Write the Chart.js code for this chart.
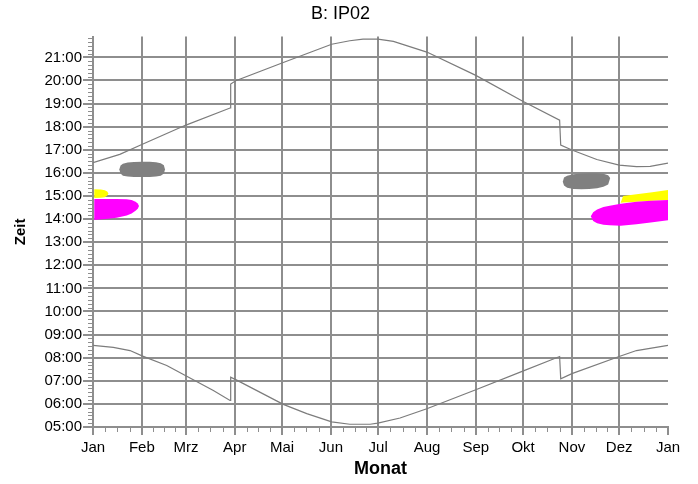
<!DOCTYPE html>
<html lang="de">
<head>
<meta charset="UTF-8">
<title>B: IP02</title>
<style>
  body { margin: 0; background: #ffffff; }
  #wrap { width: 698px; height: 484px; }
</style>
<script src="https://cdn.jsdelivr.net/npm/chart.js"></script>
</head>
<body>
<div id="wrap"><canvas id="chart" width="698" height="484"></canvas></div>
<script>
// Achsen
const monthStarts = [0, 31, 59, 90, 120, 151, 181, 212, 243, 273, 304, 334, 365];
const monthLabels = ['Jan', 'Feb', 'Mrz', 'Apr', 'Mai', 'Jun', 'Jul', 'Aug', 'Sep', 'Okt', 'Nov', 'Dez', 'Jan'];
const hourTicks = [5, 6, 7, 8, 9, 10, 11, 12, 13, 14, 15, 16, 17, 18, 19, 20, 21];
const hourLabels = ['05:00', '06:00', '07:00', '08:00', '09:00', '10:00', '11:00', '12:00', '13:00',
                    '14:00', '15:00', '16:00', '17:00', '18:00', '19:00', '20:00', '21:00'];

// Sonnenuntergang (Tag im Jahr, Uhrzeit in Stunden)
const sunsetDays  = [0, 17, 31, 59, 87, 87.4, 90.6, 120.8, 151.5, 163, 171.4, 180.8, 190.7, 211.9, 243, 272.8, 296.2, 296.9, 304, 319.8, 334, 345, 353.7, 365];
const sunsetTimes = [16.44, 16.80, 17.23, 18.07, 18.81, 19.85, 19.99, 20.78, 21.57, 21.72, 21.79, 21.79, 21.69, 21.23, 20.22, 19.10, 18.28, 17.20, 16.99, 16.58, 16.34, 16.27, 16.28, 16.42];

// Sonnenaufgang
const sunriseDays  = [0, 12.9, 23.5, 31.5, 46.8, 59.5, 76.4, 87, 87.4, 90.6, 120.8, 135.7, 151.5, 163, 175.9, 180.8, 194.9, 211.9, 243, 272.8, 296.2, 296.9, 304, 334, 345, 365];
const sunriseTimes = [8.53, 8.45, 8.31, 8.07, 7.66, 7.20, 6.58, 6.15, 7.16, 7.05, 5.98, 5.58, 5.22, 5.12, 5.12, 5.17, 5.39, 5.79, 6.61, 7.42, 8.05, 7.09, 7.31, 8.05, 8.31, 8.53];

// Schattenflächen: Tag, obere Grenze, untere Grenze
const grayLeftDays   = [16.7, 17.5, 19, 22, 26, 31, 36, 40, 43, 45, 45.7];
const grayLeftTop    = [16.15, 16.32, 16.40, 16.45, 16.47, 16.48, 16.48, 16.46, 16.42, 16.33, 16.15];
const grayLeftBottom = [16.15, 15.97, 15.88, 15.84, 15.82, 15.82, 15.82, 15.84, 15.88, 15.97, 16.15];

const magentaLeftDays   = [0.8, 8, 15, 21.4, 24.5, 27, 28.4, 29.2];
const magentaLeftTop    = [14.87, 14.87, 14.87, 14.86, 14.83, 14.75, 14.68, 14.57];
const magentaLeftBottom = [13.96, 14.00, 14.06, 14.16, 14.24, 14.36, 14.45, 14.57];

const yellowLeftDays   = [0.8, 5, 7.5, 9, 9.8];
const yellowLeftTop    = [15.29, 15.28, 15.25, 15.19, 15.11];
const yellowLeftBottom = [14.91, 14.92, 14.95, 15.02, 15.11];

const grayRightDays   = [298.2, 299, 301, 305, 310, 315, 320, 324, 327, 328.3];
const grayRightTop    = [15.62, 15.80, 15.88, 15.94, 15.97, 15.98, 15.98, 15.96, 15.90, 15.78];
const grayRightBottom = [15.62, 15.45, 15.36, 15.30, 15.29, 15.30, 15.34, 15.40, 15.50, 15.78];

const magentaRightDays   = [316, 317.5, 320, 324, 328, 335, 345, 354, 365];
const magentaRightTop    = [14.12, 14.30, 14.42, 14.52, 14.58, 14.66, 14.75, 14.79, 14.83];
const magentaRightBottom = [14.12, 13.92, 13.82, 13.76, 13.73, 13.71, 13.78, 13.85, 13.95];

const yellowRightDays   = [335, 336.5, 345, 355, 365];
const yellowRightTop    = [14.72, 15.00, 15.08, 15.16, 15.26];
const yellowRightBottom = [14.71, 14.72, 14.75, 14.79, 14.83];

const gridColor = '#8e8e8e';
const fontFamily = '"Liberation Sans", Arial, sans-serif';

function toPoints(days, times) {
    return days.map((d, i) => ({ x: d, y: times[i] }));
}

// Umriss: oben hin, unten zurück
function toShape(days, top, bottom) {
    const pts = toPoints(days, top);
    for (let i = days.length - 1; i >= 0; i--) {
        pts.push({ x: days[i], y: bottom[i] });
    }
    return pts;
}

function area(label, data, color) {
    return {
        label: label,
        data: data,
        fill: 'shape',
        backgroundColor: color,
        borderColor: 'rgba(0,0,0,0)',
        borderWidth: 1,
        pointRadius: 0,
        tension: 0
    };
}

function curve(label, data) {
    return {
        label: label,
        data: data,
        fill: false,
        borderColor: '#7c7c7c',
        borderWidth: 1.2,
        pointRadius: 0,
        tension: 0
    };
}

// kleine Zwischenstriche an den Achsen
const minorTicks = {
    id: 'minorTicks',
    afterDraw(chart) {
        const { ctx, scales: { x, y } } = chart;
        ctx.save();
        ctx.strokeStyle = gridColor;
        ctx.lineWidth = 1;
        ctx.beginPath();
        for (let i = 0; i < monthStarts.length - 1; i++) {
            const len = monthStarts[i + 1] - monthStarts[i];
            for (let q = 1; q < 4; q++) {
                const px = Math.round(x.getPixelForValue(monthStarts[i] + q * len / 4)) + 0.5;
                ctx.moveTo(px, y.bottom);
                ctx.lineTo(px, y.bottom + 5);
            }
        }
        for (let m = 5 * 60 + 10; m <= y.max * 60; m += 10) {
            if (m % 60 === 0) continue;
            const py = Math.round(y.getPixelForValue(m / 60)) + 0.5;
            ctx.moveTo(x.left - 5, py);
            ctx.lineTo(x.left, py);
        }
        ctx.stroke();
        ctx.restore();
    }
};

new Chart(document.getElementById('chart'), {
    type: 'line',
    data: {
        datasets: [
            area('Schatten grau links', toShape(grayLeftDays, grayLeftTop, grayLeftBottom), '#808080'),
            area('Schatten magenta links', toShape(magentaLeftDays, magentaLeftTop, magentaLeftBottom), '#ff00ff'),
            area('Schatten gelb links', toShape(yellowLeftDays, yellowLeftTop, yellowLeftBottom), '#ffff00'),
            area('Schatten grau rechts', toShape(grayRightDays, grayRightTop, grayRightBottom), '#808080'),
            area('Schatten magenta rechts', toShape(magentaRightDays, magentaRightTop, magentaRightBottom), '#ff00ff'),
            area('Schatten gelb rechts', toShape(yellowRightDays, yellowRightTop, yellowRightBottom), '#ffff00'),
            curve('Sonnenuntergang', toPoints(sunsetDays, sunsetTimes)),
            curve('Sonnenaufgang', toPoints(sunriseDays, sunriseTimes))
        ]
    },
    options: {
        responsive: false,
        animation: false,
        layout: { padding: { left: 13, right: 30, top: 0, bottom: 0 } },
        plugins: {
            legend: { display: false },
            tooltip: { enabled: false },
            title: {
                display: true,
                text: 'B: IP02',
                color: '#000',
                font: { family: fontFamily, size: 18, weight: 'normal' },
                padding: { top: 3, bottom: 12 }
            }
        },
        scales: {
            x: {
                type: 'linear',
                min: 0,
                max: 365,
                z: 1,
                afterBuildTicks: (scale) => { scale.ticks = monthStarts.map(v => ({ value: v })); },
                afterFit: (scale) => { scale.height = 57; },
                ticks: {
                    autoSkip: false,
                    maxRotation: 0,
                    padding: 4,
                    color: '#000',
                    font: { family: fontFamily, size: 15 },
                    callback: (value, index) => monthLabels[index]
                },
                grid: {
                    color: (c) => c.index === monthStarts.length - 1 ? 'rgba(0,0,0,0)' : gridColor,
                    tickColor: gridColor,
                    lineWidth: 2,
                    tickLength: 8
                },
                border: { display: true, color: gridColor, width: 2 },
                title: {
                    display: true,
                    text: 'Monat',
                    color: '#000',
                    font: { family: fontFamily, size: 18, weight: 'bold' },
                    padding: { top: 0, bottom: 4 }
                }
            },
            y: {
                type: 'linear',
                min: 5,
                max: 21.9,
                z: 1,
                afterBuildTicks: (scale) => { scale.ticks = hourTicks.map(v => ({ value: v })); },
                afterFit: (scale) => { scale.width = 80; },
                ticks: {
                    autoSkip: false,
                    padding: 1,
                    color: '#000',
                    font: { family: fontFamily, size: 15 },
                    callback: (value, index) => hourLabels[index]
                },
                grid: {
                    color: gridColor,
                    tickColor: gridColor,
                    lineWidth: 2,
                    tickLength: 10
                },
                border: { display: true, color: gridColor, width: 2 },
                title: {
                    display: true,
                    text: 'Zeit',
                    color: '#000',
                    font: { family: fontFamily, size: 15, weight: 'bold' },
                    padding: { top: -1, bottom: 0 }
                }
            }
        }
    },
    plugins: [minorTicks]
});
</script>
</body>
</html>
